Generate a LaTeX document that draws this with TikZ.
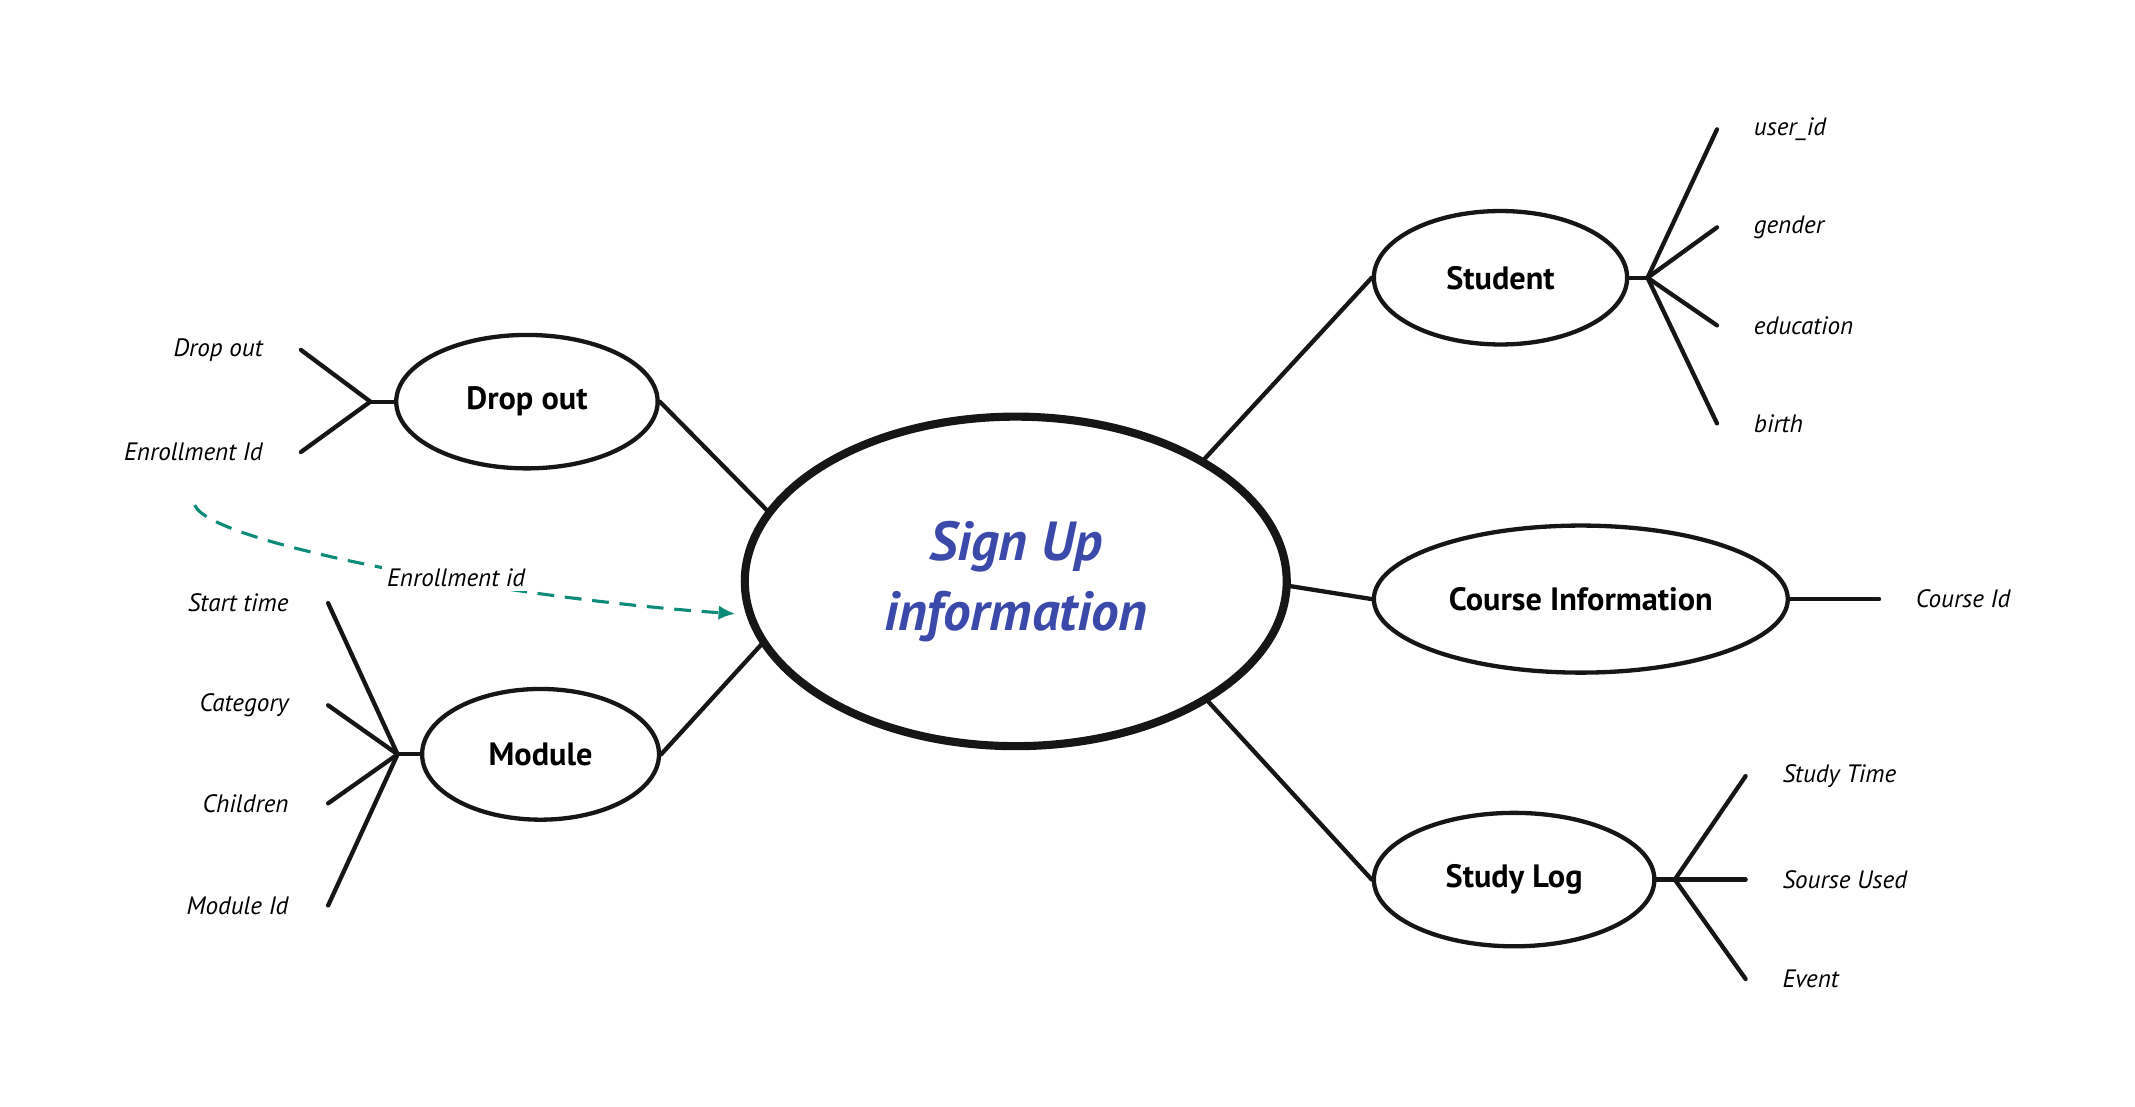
\documentclass[tikz,border=0pt]{standalone}
\usepackage{fontspec}
\setmainfont{PT Sans}
\usetikzlibrary{shapes.geometric,arrows.meta}

\definecolor{signblue}{RGB}{59,73,171}
\definecolor{linkteal}{RGB}{12,140,120}
\definecolor{inkblack}{RGB}{22,22,22}

\tikzset{
  entity/.style={ellipse, draw=inkblack, line width=1.8pt, inner sep=0pt,
    font=\fontsize{13.5}{16}\selectfont\bfseries},
  attr/.style={font=\fontsize{10.5}{12}\selectfont\itshape, inner sep=1pt},
  link/.style={draw=inkblack, line width=1.8pt, line cap=round},
}

\begin{document}
\begin{tikzpicture}[x=1cm, y=1cm]
  \useasboundingbox (0,0) rectangle (31.36,16.26);

  % central entity
  \node[entity, line width=3.4pt, minimum width=7.96cm, minimum height=4.84cm,
        align=center, text=signblue,
        font=\fontsize{23}{29.5}\selectfont\bfseries\itshape]
        (signup) at (14.92,7.72) {Sign Up\\information};

  % Drop out entity and its attributes
  \node[entity, minimum width=3.84cm, minimum height=1.96cm] (dropout) at (7.74,10.36) {Drop out};
  \coordinate (dropj) at (5.44,10.36);
  \node[attr, anchor=east] (dropflag) at (3.90,11.12) {Drop out};
  \node[attr, anchor=east] (dropenrl) at (3.90,9.62) {Enrollment Id};
  \draw[link] (dropout.west) -- (dropj);
  \draw[link] (dropj) -- ([xshift=5.2mm]dropflag.east);
  \draw[link] (dropj) -- ([xshift=5.2mm]dropenrl.east);

  % Module entity and its attributes
  \node[entity, minimum width=3.48cm, minimum height=1.92cm] (module) at (7.94,5.18) {Module};
  \coordinate (modj) at (5.84,5.18);
  \node[attr, anchor=east] (modstart) at (4.28,7.40) {Start time};
  \node[attr, anchor=east] (modcat) at (4.28,5.90) {Category};
  \node[attr, anchor=east] (modchild) at (4.28,4.46) {Children};
  \node[attr, anchor=east] (modid) at (4.28,2.96) {Module Id};
  \draw[link] (module.west) -- (modj);
  \draw[link] (modj) -- ([xshift=5.4mm]modstart.east);
  \draw[link] (modj) -- ([xshift=5.4mm]modcat.east);
  \draw[link] (modj) -- ([xshift=5.4mm]modchild.east);
  \draw[link] (modj) -- ([xshift=5.4mm]modid.east);

  % Student entity and its attributes
  \node[entity, minimum width=3.72cm, minimum height=1.96cm] (student) at (22.04,12.18) {Student};
  \coordinate (studj) at (24.20,12.18);
  \node[attr, anchor=west] (studuid) at (25.72,14.36) {user\_id};
  \node[attr, anchor=west] (studgen) at (25.72,12.92) {gender};
  \node[attr, anchor=west] (studedu) at (25.72,11.48) {education};
  \node[attr, anchor=west] (studbirth) at (25.72,10.04) {birth};
  \draw[link] (student.east) -- (studj);
  \draw[link] (studj) -- ([xshift=-5mm]studuid.west);
  \draw[link] (studj) -- ([xshift=-5mm]studgen.west);
  \draw[link] (studj) -- ([xshift=-5mm]studedu.west);
  \draw[link] (studj) -- ([xshift=-5mm]studbirth.west);

  % Course Information entity
  \node[entity, minimum width=6.08cm, minimum height=2.16cm] (course) at (23.22,7.46) {Course Information};
  \node[attr, anchor=west] (courseid) at (28.10,7.46) {Course Id};
  \draw[link] (course.east) -- ([xshift=-5mm]courseid.west);

  % Study Log entity and its attributes
  \node[entity, minimum width=4.12cm, minimum height=1.96cm] (studylog) at (22.24,3.34) {Study Log};
  \coordinate (logj) at (24.60,3.34);
  \node[attr, anchor=west] (logtime) at (26.14,4.86) {Study Time};
  \node[attr, anchor=west] (logsrc) at (26.14,3.34) {Sourse Used};
  \node[attr, anchor=west] (logevent) at (26.14,1.88) {Event};
  \draw[link] (studylog.east) -- (logj);
  \draw[link] (logj) -- ([xshift=-5mm]logtime.west);
  \draw[link] (logj) -- ([xshift=-5mm]logsrc.west);
  \draw[link] (logj) -- ([xshift=-5mm]logevent.west);

  % links to the central entity
  \draw[link] (dropout.east) -- (signup.164);
  \draw[link] (module.east) -- (signup.194);
  \draw[link] (signup.33) -- (student.west);
  \draw[link] (signup.-1) -- (course.west);
  \draw[link] (signup.-32) -- (studylog.west);

  % enrollment id reference
  \coordinate (enrlstart) at (2.86,8.84);
  \draw[linkteal, line width=1.3pt, dash pattern=on 7pt off 4.5pt,
        -{Latex[length=7pt,width=6pt]}, shorten >=4.5pt]
        (enrlstart) .. controls (3.10,8.26) and (7.60,7.46) .. (signup.187);
  \node[attr, fill=white, inner sep=2pt] (enrlid) at (6.70,7.78) {Enrollment id};

\end{tikzpicture}
\end{document}
